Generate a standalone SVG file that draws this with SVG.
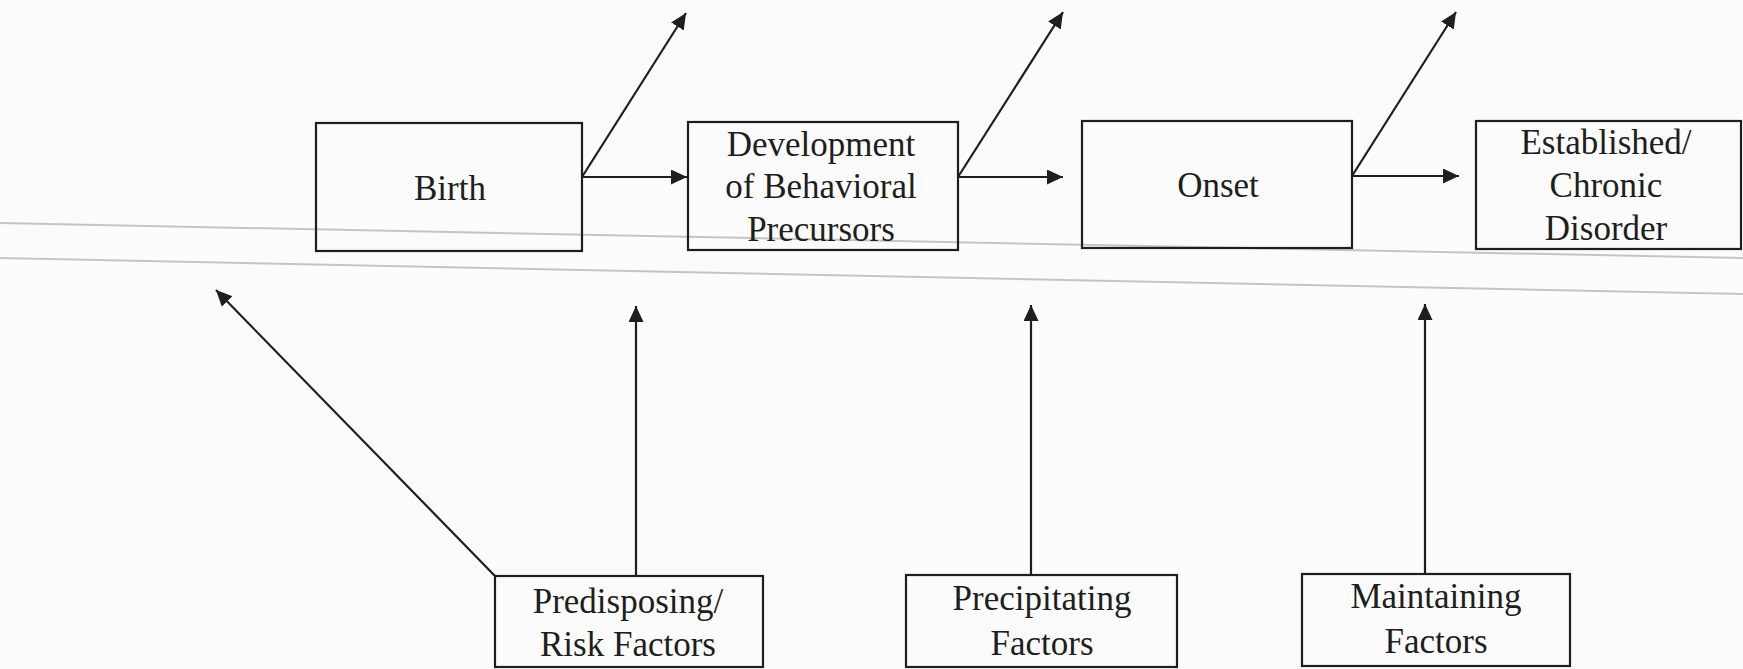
<svg xmlns="http://www.w3.org/2000/svg" width="1743" height="669" viewBox="0 0 1743 669">
  <style>
    .box { fill: none; stroke: #1e1e1e; stroke-width: 2.2; }
    .lbl { font-family: "Liberation Serif", "Times New Roman", serif; font-size: 35px; fill: #1e1e1e; text-anchor: middle; }
    .conn { stroke: #1e1e1e; stroke-width: 2.2; fill: none; marker-end: url(#arrow); }
    .fold { stroke: #c4c4c4; stroke-width: 2; fill: none; }
  </style>
  <defs>
    <marker id="arrow" markerUnits="userSpaceOnUse" markerWidth="18" markerHeight="16" refX="16" refY="7.5" orient="auto">
      <path d="M0,0 L16,7.5 L0,15 z" fill="#1e1e1e"/>
    </marker>
  </defs>
  <rect width="1743" height="669" fill="#fbfbfb"/>
  <g id="scan-lines">
    <line class="fold" x1="0" y1="223" x2="1743" y2="258"/>
    <line class="fold" x1="0" y1="258" x2="1743" y2="294"/>
  </g>
  <g id="connectors">
    <line class="conn" x1="582" y1="177" x2="687" y2="177"/>
    <line class="conn" x1="582" y1="177" x2="686" y2="13"/>
    <line class="conn" x1="958" y1="177" x2="1063" y2="177"/>
    <line class="conn" x1="958" y1="177" x2="1063" y2="12"/>
    <line class="conn" x1="1352" y1="176" x2="1459" y2="176"/>
    <line class="conn" x1="1352" y1="176" x2="1456" y2="12"/>
    <line class="conn" x1="495" y1="576" x2="216" y2="290"/>
    <line class="conn" x1="636" y1="576" x2="636" y2="306"/>
    <line class="conn" x1="1031" y1="575" x2="1031" y2="305"/>
    <line class="conn" x1="1425" y1="574" x2="1425" y2="304"/>
  </g>
  <g id="birth">
    <rect class="box" x="316" y="123" width="266" height="128"/>
    <text class="lbl" x="450" y="200">Birth</text>
  </g>
  <g id="development">
    <rect class="box" x="688" y="122" width="270" height="128"/>
    <text class="lbl" x="821" y="156">Development</text>
    <text class="lbl" x="821" y="198">of Behavioral</text>
    <text class="lbl" x="821" y="241">Precursors</text>
  </g>
  <g id="onset">
    <rect class="box" x="1082" y="121" width="270" height="127"/>
    <text class="lbl" x="1218" y="197">Onset</text>
  </g>
  <g id="established">
    <rect class="box" x="1476" y="121" width="265" height="128"/>
    <text class="lbl" x="1606" y="154">Established/</text>
    <text class="lbl" x="1606" y="197">Chronic</text>
    <text class="lbl" x="1606" y="240">Disorder</text>
  </g>
  <g id="predisposing">
    <rect class="box" x="495" y="576" width="268" height="91"/>
    <text class="lbl" x="628" y="613">Predisposing/</text>
    <text class="lbl" x="628" y="656">Risk Factors</text>
  </g>
  <g id="precipitating">
    <rect class="box" x="906" y="575" width="271" height="92"/>
    <text class="lbl" x="1042" y="610">Precipitating</text>
    <text class="lbl" x="1042" y="655">Factors</text>
  </g>
  <g id="maintaining">
    <rect class="box" x="1302" y="574" width="268" height="92"/>
    <text class="lbl" x="1436" y="608">Maintaining</text>
    <text class="lbl" x="1436" y="653">Factors</text>
  </g>
</svg>
